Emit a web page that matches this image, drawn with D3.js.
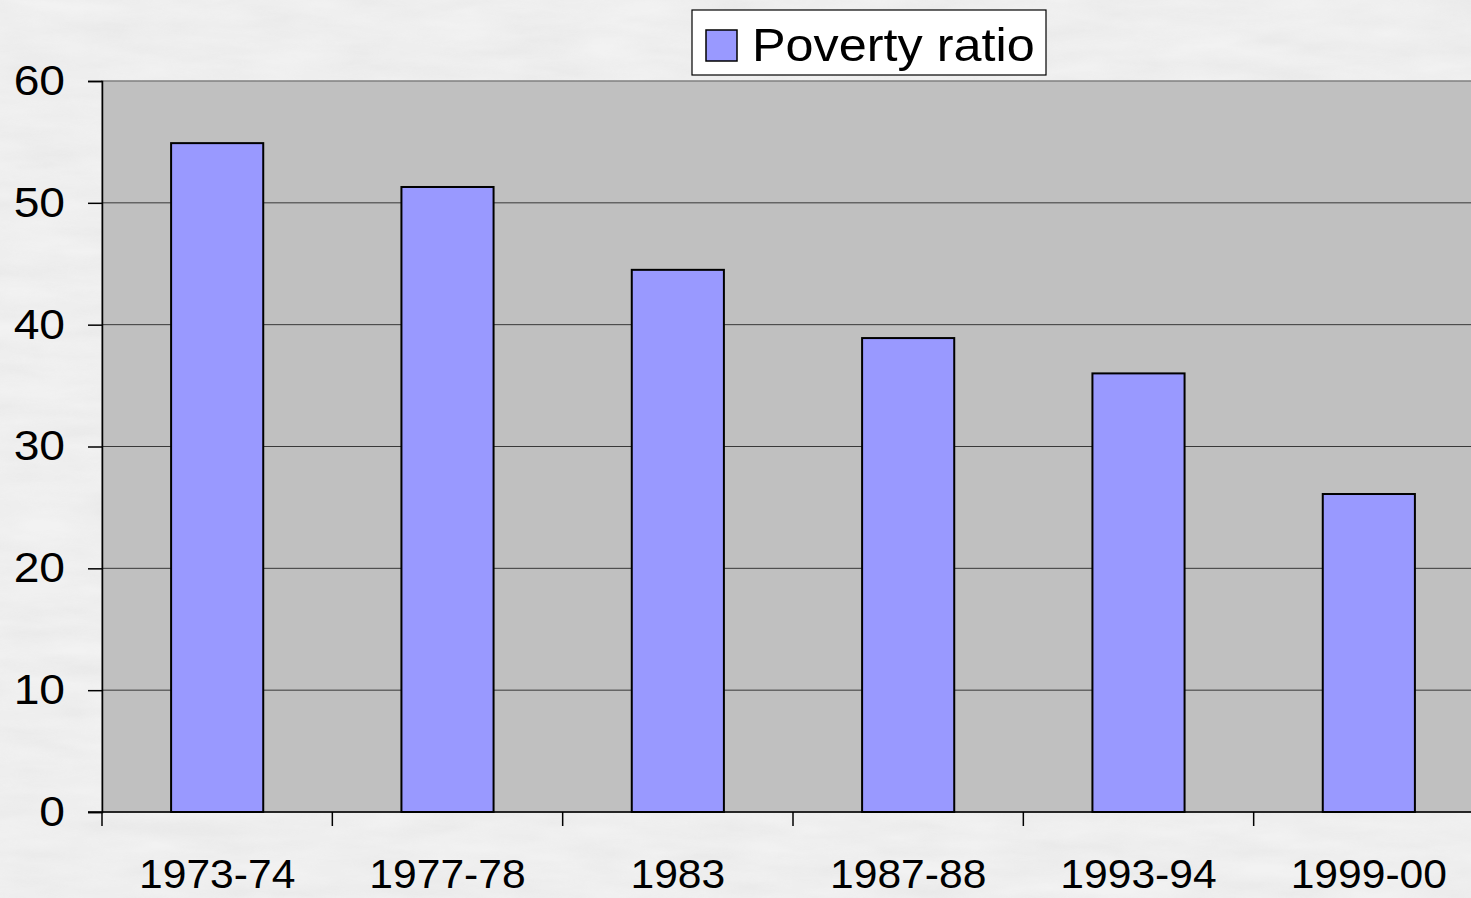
<!DOCTYPE html>
<html>
<head>
<meta charset="utf-8">
<script src="https://cdn.jsdelivr.net/npm/d3@7"></script>
<style>
    html, body { margin: 0; padding: 0; overflow: hidden; background: #f0f0f0; }
    text { font-family: "Liberation Sans", Arial, sans-serif; }
</style>
</head>
<body>
<script>
const periods = ['1973-74', '1977-78', '1983', '1987-88', '1993-94', '1999-00'];
const povertyRatio = [54.9, 51.3, 44.5, 38.9, 36.0, 26.1];
const yTicks = [0, 10, 20, 30, 40, 50, 60];
const seriesName = 'Poverty ratio';

drawChart();

function drawChart()
{
    const width = 1471;
    const height = 898;
    const margin = {top: 81, left: 102, bottom: 86};
    const plotRight = 1484;

    const svg = d3.select('body')
        .append('svg')
        .attr('width', width)
        .attr('height', height);

    // marble-ish page texture
    const defs = svg.append('defs');
    const filter = defs.append('filter').attr('id', 'marble')
        .attr('x', 0).attr('y', 0).attr('width', '100%').attr('height', '100%');
    filter.append('feTurbulence')
        .attr('type', 'fractalNoise')
        .attr('baseFrequency', '0.012 0.05')
        .attr('numOctaves', 4)
        .attr('seed', 3);
    filter.append('feColorMatrix')
        .attr('type', 'matrix')
        .attr('values', '0 0 0 0 0.55  0 0 0 0 0.55  0 0 0 0 0.55  0.22 0.22 0.22 0 -0.2');

    svg.append('rect')
        .attr('width', width)
        .attr('height', height)
        .attr('fill', '#f2f2f2');
    svg.append('rect')
        .attr('width', width)
        .attr('height', height)
        .attr('filter', 'url(#marble)')
        .attr('opacity', 0.6);

    const x = d3.scaleBand()
        .domain(periods)
        .range([margin.left, plotRight])
        .paddingInner(0.6)
        .paddingOuter(0.3);

    const y = d3.scaleLinear()
        .domain([0, 60])
        .range([height - margin.bottom, margin.top]);

    // plot area
    svg.append('rect')
        .attr('x', margin.left)
        .attr('y', y(60))
        .attr('width', plotRight - margin.left)
        .attr('height', y(0) - y(60))
        .attr('fill', '#c0c0c0')
        .attr('stroke', '#808080')
        .attr('stroke-width', 1.5);

    // gridlines
    svg.append('g')
        .selectAll('line')
        .data(yTicks.filter(d => d > 0 && d < 60))
        .enter()
        .append('line')
        .attr('x1', margin.left)
        .attr('x2', plotRight)
        .attr('y1', d => y(d))
        .attr('y2', d => y(d))
        .attr('stroke', '#383838')
        .attr('stroke-width', 1);

    // bars
    svg.append('g')
        .selectAll('rect')
        .data(periods)
        .enter()
        .append('rect')
        .attr('x', d => x(d))
        .attr('y', (d, i) => y(povertyRatio[i]))
        .attr('width', x.bandwidth())
        .attr('height', (d, i) => y(0) - y(povertyRatio[i]))
        .attr('fill', '#9999ff')
        .attr('stroke', '#000')
        .attr('stroke-width', 2);

    // y axis (labels are a bit wider than plain Arial in the original)
    const yStretch = 1.1;
    const yAxis = svg.append('g')
        .attr('transform', `translate(${margin.left},0)`)
        .call(d3.axisLeft(y).tickValues(yTicks).tickSize(14));
    yAxis.select('.domain').attr('stroke', '#000').attr('stroke-width', 1.5);
    yAxis.selectAll('.tick line').attr('stroke', '#000').attr('stroke-width', 1.5);
    yAxis.selectAll('.tick text')
        .attr('x', -37 / yStretch)
        .attr('transform', `scale(${yStretch},1)`)
        .attr('font-size', 42)
        .attr('fill', '#000')
        .attr('font-family', '"Liberation Sans", Arial, sans-serif');

    // x axis with ticks between categories
    const xAxisG = svg.append('g')
        .attr('transform', `translate(0,${y(0)})`);
    xAxisG.append('line')
        .attr('x1', margin.left - 14)
        .attr('x2', plotRight)
        .attr('stroke', '#000')
        .attr('stroke-width', 1.5);
    const step = x.step();
    const boundaries = d3.range(periods.length + 1).map(i => margin.left + i * step);
    xAxisG.selectAll('.sep')
        .data(boundaries)
        .enter()
        .append('line')
        .attr('class', 'sep')
        .attr('x1', d => d)
        .attr('x2', d => d)
        .attr('y1', 0)
        .attr('y2', 14)
        .attr('stroke', '#000')
        .attr('stroke-width', 1.5);
    xAxisG.selectAll('.lbl')
        .data(periods)
        .enter()
        .append('text')
        .attr('class', 'lbl')
        .attr('transform', d => `translate(${x(d) + x.bandwidth() / 2},76) scale(1.065,1)`)
        .attr('text-anchor', 'middle')
        .attr('font-size', 40)
        .attr('fill', '#000')
        .text(d => d);

    // legend
    const legend = svg.append('g').attr('transform', 'translate(692,10)');
    legend.append('rect')
        .attr('width', 354)
        .attr('height', 65)
        .attr('fill', '#fff')
        .attr('stroke', '#000')
        .attr('stroke-width', 1.2);
    legend.append('rect')
        .attr('x', 14)
        .attr('y', 20)
        .attr('width', 31)
        .attr('height', 31)
        .attr('fill', '#9999ff')
        .attr('stroke', '#000')
        .attr('stroke-width', 1.5);
    legend.append('text')
        .attr('transform', 'translate(60,51) scale(1.095,1)')
        .attr('font-size', 46)
        .attr('fill', '#000')
        .text(seriesName);
}
</script>
</body>
</html>
